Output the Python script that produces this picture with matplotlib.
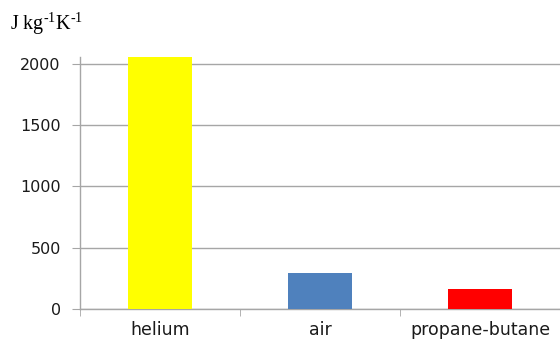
import numpy as np
import matplotlib.pyplot as plt

gases = ["helium", "air", "propane-butane"]
cp_values = [2054, 290, 163]
bar_colors = ["#FFFF00", "#4F81BD", "#FF0000"]
yticks = [0, 500, 1000, 1500, 2000]

plt.rcParams["mathtext.fontset"] = "custom"
plt.rcParams["mathtext.rm"] = "Liberation Serif"
plt.rcParams["mathtext.it"] = "Liberation Serif:italic"

fig = plt.figure(figsize=(5.6, 3.47), dpi=100)
ax = fig.add_axes([0.143, 0.11, 0.857, 0.726])

x = np.arange(len(gases))
ax.bar(x, cp_values, width=0.4, color=bar_colors, zorder=3)

ax.set_xlim(-0.5, len(gases) - 0.5)
ax.set_ylim(0, 2054)
ax.set_yticks(yticks)
ax.set_xticks(x)
ax.set_xticklabels(gases)
ax.set_xticks(np.arange(len(gases) + 1) - 0.5, minor=True)

ax.grid(axis="y", color="#a6a6a6", linewidth=1.0, zorder=0)
for s in ["top", "right"]:
    ax.spines[s].set_visible(False)
for s in ["left", "bottom"]:
    ax.spines[s].set_color("#a6a6a6")
    ax.spines[s].set_linewidth(1.0)

ax.tick_params(axis="y", length=6, color="#a6a6a6", labelsize=11.5, pad=8, labelcolor="#1a1a1a")
ax.tick_params(axis="x", which="major", length=0, labelsize=12.5, pad=9, labelcolor="#1a1a1a")
ax.tick_params(axis="x", which="minor", length=5, color="#a6a6a6")

fig.text(0.018, 0.93, r"J kg$^{\text{-1}}$K$^{\text{-1}}$", fontsize=14.5,
         family="Liberation Serif", ha="left", va="center")

fig.savefig("out.png", dpi=100)
